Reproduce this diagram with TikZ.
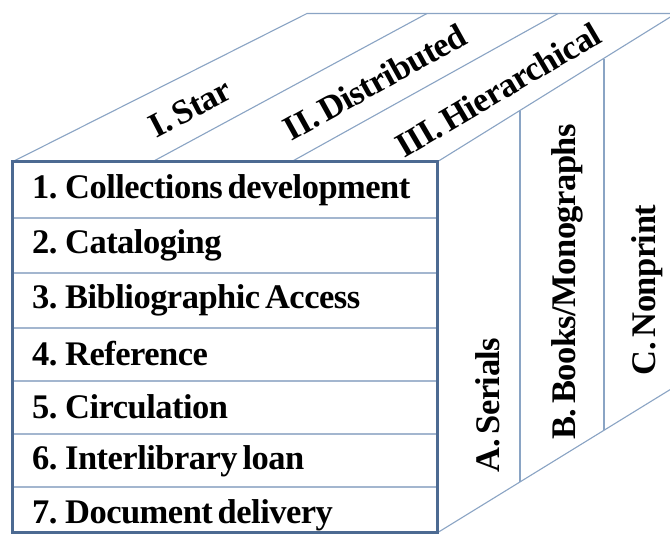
\documentclass[tikz,border=0pt]{standalone}
\usepackage{fontspec}
\setmainfont{Liberation Serif}
\newfontfamily\lblfont[LetterSpace=-1.5,WordSpace=0.6]{Liberation Serif}
\begin{document}
\begin{tikzpicture}[x=1pt,y=1pt,
  thin line/.style={draw=edgeblue,line width=1.1pt},
  row line/.style={draw=rowblue,line width=1.6pt},
  front border/.style={draw=frontblue,line width=3pt},
  lbl/.style={font=\lblfont\fontsize{34.5}{37}\selectfont\bfseries,inner sep=0pt,text=black},
  rowlbl/.style={lbl,anchor=west}]
\definecolor{edgeblue}{HTML}{8AA4C4}
\definecolor{rowblue}{HTML}{A3B6CF}
\definecolor{frontblue}{HTML}{4C6A92}
\useasboundingbox (0,0) rectangle (670,534);
\clip (0,0) rectangle (670,534);
\fill[white] (0,0) rectangle (670,534);
% corners (y = 534 - image y)
\coordinate (FTL) at (12,372);
\coordinate (FTR) at (437,372);
\coordinate (FBR) at (437,1);
\coordinate (FBL) at (12,1);
\coordinate (BTL) at (307,520.5);
\coordinate (BTR) at (676,520.5);
\coordinate (q1) at (152,372);
\coordinate (q2) at (291,372);
\coordinate (p1) at (427,520.5);
\coordinate (p2) at (558,520.5);
\coordinate (RBR) at (676,148);
\coordinate (v1t) at (520,423);
\coordinate (v1b) at (520,52);
\coordinate (v2t) at (604,475);
\coordinate (v2b) at (604,104);
% top face
\draw[thin line] (FTL) -- (BTL) -- (BTR);
\draw[thin line] (q1) -- (p1);
\draw[thin line] (q2) -- (p2);
\draw[thin line] (FTR) -- (BTR);
% right face
\draw[thin line] (FBR) -- (RBR);
\draw[thin line] (v1t) -- (v1b);
\draw[thin line] (v2t) -- (v2b);
% rows
\foreach \yy in {316,261,206,153,100,47} \draw[row line] (12,\yy) -- (437,\yy);
\draw[front border] (FTL) rectangle (FBR);
% row labels
\node[rowlbl] (r1) at (32,344) {1. Collections development};
\node[rowlbl] (r2) at (32,289) {2. Cataloging};
\node[rowlbl] (r3) at (32,234) {3. Bibliographic Access};
\node[rowlbl] (r4) at (32,180) {4. Reference};
\node[rowlbl] (r5) at (32,127) {5. Circulation};
\node[rowlbl] (r6) at (32,73) {6. Interlibrary loan};
\node[rowlbl] (r7) at (32,19) {7. Document delivery};
% top labels
\node[lbl,rotate=27.5] (t1) at (190,426) {I. Star};
\node[lbl,rotate=29] (t2) at (375,452) {II. Distributed};
\node[lbl,rotate=30.5] (t3) at (498,444) {III. Hierarchical};
% side labels
\node[lbl,rotate=90] (s1) at (488,129) {A. Serials};
\node[lbl,rotate=90] (s2) at (567,252) {B. Books/Monographs};
\node[lbl,rotate=90] (s3) at (647,244) {C. Nonprint};
\end{tikzpicture}
\end{document}
